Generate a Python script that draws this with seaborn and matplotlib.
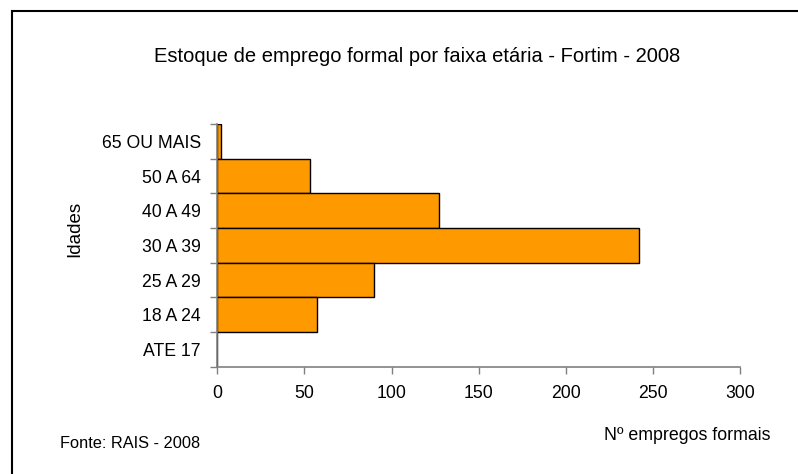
import matplotlib
matplotlib.use("Agg")
import matplotlib.pyplot as plt
import numpy as np
import pandas as pd
import seaborn as sns
from matplotlib.patches import Rectangle

# faixas etarias, de cima para baixo como no grafico
faixas = ["65 OU MAIS", "50 A 64", "40 A 49", "30 A 39", "25 A 29", "18 A 24", "ATE 17"]
empregos = [2, 53, 127, 242, 90, 57, 0]
xticks = [0, 50, 100, 150, 200, 250, 300]

sns.set_style("white")
plt.rcParams['font.family'] = ['Liberation Sans', 'DejaVu Sans']
plt.rcParams['text.color'] = 'black'

df = pd.DataFrame({"faixa": faixas, "empregos": empregos})

fig = plt.figure(figsize=(7.98, 4.74), dpi=100)
ax = fig.add_axes([0.2723, 0.2264, 0.6554, 0.512])

sns.barplot(data=df, x="empregos", y="faixa", order=faixas, orient="h",
            color="#FF9900", saturation=1, width=1.0, edgecolor="black",
            linewidth=1, ax=ax)

ax.set_xlim(0, 300)
ax.set_ylim(len(faixas) - 0.5, -0.5)
ax.set_xticks(xticks)
ax.set_xticklabels([str(t) for t in xticks], fontsize=12.7)
ax.set_yticks(np.arange(len(faixas)))
ax.set_yticklabels(faixas, fontsize=12.7)
ax.set_yticks(np.arange(len(faixas) + 1) - 0.5, minor=True)
ax.tick_params(axis="y", which="major", length=0, pad=12, labelcolor="black")
ax.tick_params(axis="y", which="minor", length=5, width=1, color="#808080", direction="out", left=True)
ax.tick_params(axis="x", length=5, width=1, color="#808080", direction="out", bottom=True,
               pad=8, labelcolor="black")

for s in ["top", "right"]:
    ax.spines[s].set_visible(False)
for s in ["left", "bottom"]:
    ax.spines[s].set_color("#808080")
    ax.spines[s].set_linewidth(1.2)

ax.set_xlabel("")
ax.set_ylabel("")

fig.text(417 / 798, 1 - 56 / 474, "Estoque de emprego formal por faixa etária - Fortim - 2008",
         ha="center", va="center", fontsize=14.5)
fig.text(75 / 798, 1 - 229 / 474, "Idades", rotation=90, ha="center", va="center", fontsize=13.5)
fig.text(770 / 798, 1 - 435 / 474, "Nº empregos formais", ha="right", va="center", fontsize=12.8)
fig.text(60 / 798, 1 - 443 / 474, "Fonte: RAIS - 2008", ha="left", va="center", fontsize=11.8)

# moldura da area do grafico (so topo e esquerda aparecem)
fig.patches.append(Rectangle((12 / 798, -0.1), 1.2, 1 - 11 / 474 + 0.1,
                             transform=fig.transFigure, fill=False,
                             edgecolor="black", linewidth=1.5))

fig.savefig("out.png", dpi=100)
